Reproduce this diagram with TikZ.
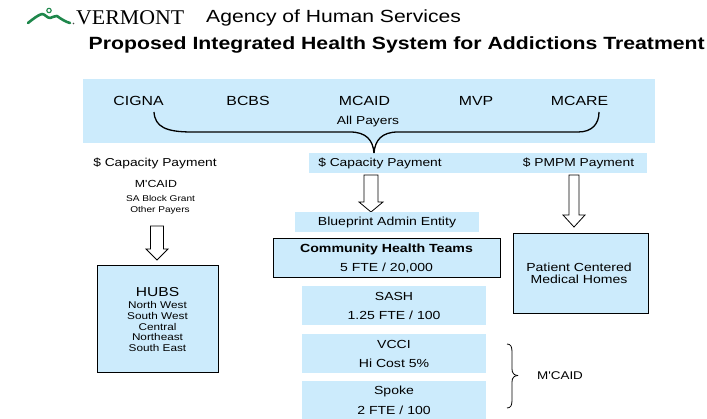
\documentclass[tikz,border=0pt]{standalone}
\usepackage{fontspec}
\setmainfont{Liberation Sans}[FakeStretch=1.2, Ligatures=TeXOff]
\newfontfamily\vtfont{Liberation Serif}[FakeStretch=1.04]
\newcommand{\fsz}[1]{\fontsize{#1}{#1}\selectfont}
\definecolor{boxblue}{RGB}{204,235,252}
\definecolor{logogreen}{RGB}{30,135,75}
\tikzset{
  bluebox/.style={fill=boxblue, draw=none},
  edgebox/.style={fill=boxblue, draw=black, line width=0.9pt},
  txt/.style={inner sep=0pt, anchor=center, align=center},
  blockarrow/.style={draw=black, fill=white, line width=0.8pt, line join=miter},
  bracepath/.style={draw=black, line width=1.3pt},
  smallbrace/.style={draw=black, line width=0.8pt}
}
% \barrow{center x}{shaft top}{head top}{tip}{shaft half}{head half}
\newcommand{\barrow}[6]{%
  \path[blockarrow] (#1-#5,#2) -- (#1+#5,#2) -- (#1+#5,#3) -- (#1+#6,#3) -- (#1,#4)
    -- (#1-#6,#3) -- (#1-#5,#3) -- cycle;}
\begin{document}
\begin{tikzpicture}[x=1pt,y=-1pt]
\path[use as bounding box, fill=white] (0,0) rectangle (707,419);

% logo
\draw[logogreen, line width=2.6pt, line cap=round, line join=round]
  (28,23) .. controls (33,19) and (38,15) .. (42,14)
  .. controls (45,14) and (47,18) .. (50,18)
  .. controls (53,18) and (55,15) .. (57,16)
  .. controls (61,19) and (66,22) .. (70,23);
\draw[logogreen, line width=1.1pt] (49,10.5) circle (2.2);
\fill[black!70] (73.5,23.5) circle (0.9);
\node[txt, anchor=west] (vt) at (76,17.5) {\vtfont\fsz{21}VERMONT};
\node[txt, anchor=west] (ahs) at (206,18) {\fsz{17.6}Agency of Human Services};
\node[txt, anchor=east] (title) at (705,45) {\fsz{17.7}\bfseries Proposed Integrated Health System for Addictions Treatment};

% top payer box
\path[bluebox] (83,79) rectangle (655,143);
\node[txt] (cigna) at (138.5,101) {\fsz{13.2}CIGNA};
\node[txt] (bcbs) at (248,101) {\fsz{13.2}BCBS};
\node[txt] (mcaid) at (364.5,101) {\fsz{13.2}MCAID};
\node[txt] (mvp) at (476,101) {\fsz{13.2}MVP};
\node[txt] (mcare) at (579.5,101) {\fsz{13.2}MCARE};
\node[txt] (allp) at (368,122) {\fsz{11.5}All Payers};

% payment row
\path[bluebox] (309,153) rectangle (647,173);
\node[txt] (capL) at (155,163.5) {\fsz{11.5}\$ Capacity Payment};
\node[txt] (capM) at (380,163.5) {\fsz{11.5}\$ Capacity Payment};
\node[txt] (pmpm) at (578.5,163.5) {\fsz{11.5}\$ PMPM Payment};
\coordinate (tip) at (374,153);

% big brace
\draw[bracepath] (154,112) .. controls (155,127) and (166,132) .. (192,132)
  -- (350,132) .. controls (366,132) and (373,140) .. (tip);
\draw[bracepath] (tip) .. controls (375,140) and (382,132) .. (398,132)
  -- (578,132) .. controls (592,132) and (599,124) .. (599,112);

% left column
\node[txt] (mcaidL) at (156,183.5) {\fsz{10.3}M'CAID};
\node[txt] (sa) at (160.5,198.5) {\fsz{8.4}SA Block Grant};
\node[txt] (oth) at (160,210) {\fsz{8.4}Other Payers};
\barrow{157}{226}{249}{260}{6.5}{11}
\path[edgebox] (97,265) rectangle (218,372);
\node[txt] (hubs) at (157.5,292) {\fsz{13}HUBS};
\node[txt, font={\fontsize{9.8}{10.6}\selectfont}] (hubl) at (157.5,326.5) {North West\\South West\\Central\\Northeast\\South East};

% middle column
\barrow{371}{175}{202}{212}{7}{12}
\path[bluebox] (295,212) rectangle (479,232);
\node[txt] (bp) at (387,222.5) {\fsz{11.7}Blueprint Admin Entity};
\path[edgebox] (273,238) rectangle (500,277);
\node[txt] (cht) at (386.5,249.5) {\fsz{11.8}\bfseries Community Health Teams};
\node[txt] (cht2) at (386.5,268.5) {\fsz{11.7}5 FTE / 20,000};
\path[bluebox] (302,286) rectangle (486,325);
\node[txt] (sash) at (394,296.5) {\fsz{11.7}SASH};
\node[txt] (sash2) at (394,315.5) {\fsz{11.7}1.25 FTE / 100};
\path[bluebox] (302,334) rectangle (486,373);
\node[txt] (vcci) at (394,344.5) {\fsz{11.7}VCCI};
\node[txt] (vcci2) at (394,363.5) {\fsz{11.7}Hi Cost 5\%};
\path[bluebox] (302,381) rectangle (486,419);
\node[txt] (spoke) at (394,391.5) {\fsz{11.7}Spoke};
\node[txt] (spoke2) at (394,410.5) {\fsz{11.7}2 FTE / 100};

% small brace
\coordinate (bt) at (507,344);
\coordinate (bb) at (507,408);
\coordinate (bm) at (518,375.5);
\draw[smallbrace] (bt) .. controls (511,344) and (512,347) .. (512,352)
  -- (512,369) .. controls (512,373) and (514,375.5) .. (bm);
\draw[smallbrace] (bm) .. controls (514,375.5) and (512,378) .. (512,382)
  -- (512,400) .. controls (512,405) and (511,408) .. (bb);
\node[txt] (mcaidR) at (560,375.5) {\fsz{11.2}M'CAID};

% right column
\barrow{574}{175}{215}{227}{5}{11}
\path[edgebox] (513,233) rectangle (648,313);
\node[txt, font={\fontsize{11.7}{11.8}\selectfont}] (pcmh) at (579,273.5) {Patient Centered\\Medical Homes};
\end{tikzpicture}
\end{document}
